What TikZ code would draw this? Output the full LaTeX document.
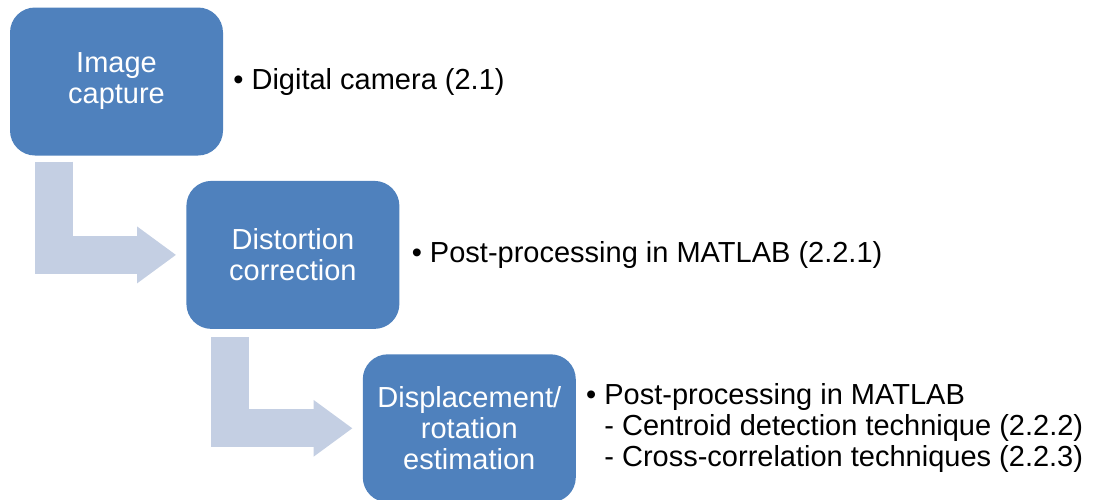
\documentclass[tikz,border=0pt]{standalone}
\usepackage{fontspec}
\setmainfont{Liberation Sans}
\usepackage{xcolor}
\usetikzlibrary{arrows.meta, positioning, calc}
\definecolor{stepblue}{RGB}{79,129,189}
\definecolor{flowgrey}{RGB}{196,207,227}
\tikzset{
  stage/.style={
    rectangle, fill=stepblue, text=white,
    minimum width=213pt, minimum height=148pt,
    rounded corners=25pt, align=center, inner sep=2pt,
    font=\fontsize{29}{31}\selectfont
  },
  note/.style={
    anchor=west, align=left, inner sep=0pt,
    font=\fontsize{29}{31}\selectfont
  },
  bentarr/.style={
    draw=flowgrey, line width=38pt,
    -{Triangle[width=54pt, length=39pt, fill=flowgrey]},
    shorten >=10pt
  }
}

\begin{document}
\begin{tikzpicture}[x=1pt, y=-1pt]
  \useasboundingbox (0,0) rectangle (1093,499);

  \node[stage] (cap) at (116.5,81.5) {Image\\capture};
  \node[stage, below right=25pt and -37pt of cap] (dist) {Distortion\\correction};
  \node[stage, below right=25pt and -37pt of dist] (disp) {Displacement/\\rotation\\estimation};

  \node[note, right=10pt of cap.east] (camnote) {\textbullet\ Digital camera (2.1)};
  \node[note, right=12pt of dist.east] (distnote) {\textbullet\ Post-processing in MATLAB (2.2.1)};
  \node[note, right=10pt of disp.east] (dispnote)
    {\textbullet\ Post-processing in MATLAB\\
     \hphantom{\textbullet\ }- Centroid detection technique (2.2.2)\\
     \hphantom{\textbullet\ }- Cross-correlation techniques (2.2.3)};

  \draw[bentarr] ($(cap.south west)+(44,6)$) |- (dist.west);
  \draw[bentarr] ($(dist.south west)+(44,8)$) |- (disp.west);
\end{tikzpicture}
\end{document}
